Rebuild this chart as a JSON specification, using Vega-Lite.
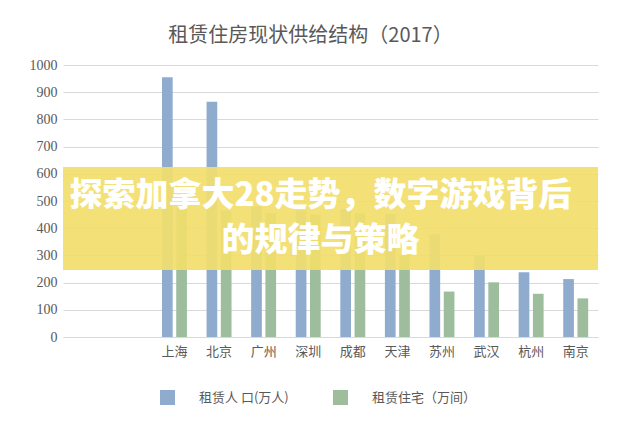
{
  "$schema": "https://vega.github.io/schema/vega-lite/v6.json",
  "width": 535,
  "height": 272,
  "autosize": "none",
  "padding": {"left": 63, "top": 65, "right": 42, "bottom": 101},
  "background": "white",
  "title": {
    "text": "租赁住房现状供给结构（2017）",
    "font": "Noto Sans CJK SC",
    "fontSize": 20,
    "fontWeight": "normal",
    "color": "#595959",
    "anchor": "middle",
    "offset": 12,
    "dx": -20
  },
  "config": {
    "view": {"stroke": null},
    "font": "Noto Sans CJK SC",
    "axisY": {
      "title": null,
      "tickCount": 10,
      "format": "d",
      "labelOverlap": false,
      "gridColor": "#d9d9d9",
      "domain": false,
      "ticks": false,
      "labelFont": "Liberation Serif",
      "labelFontSize": 14,
      "labelColor": "#595959",
      "labelPadding": 6
    },
    "axisX": {
      "title": null,
      "labelAngle": 0,
      "ticks": false,
      "domainColor": "#d9d9d9",
      "labelFont": "Noto Sans CJK SC",
      "labelFontSize": 13,
      "labelColor": "#595959",
      "labelPadding": 8,
      "grid": false
    }
  },
  "data": {
    "values": [
      {"city": "上海", "series": "租赁人 口(万人)", "value": 955},
      {"city": "上海", "series": "租赁住宅（万间）", "value": 475},
      {"city": "北京", "series": "租赁人 口(万人)", "value": 865},
      {"city": "北京", "series": "租赁住宅（万间）", "value": 465},
      {"city": "广州", "series": "租赁人 口(万人)", "value": 480},
      {"city": "广州", "series": "租赁住宅（万间）", "value": 455},
      {"city": "深圳", "series": "租赁人 口(万人)", "value": 465},
      {"city": "深圳", "series": "租赁住宅（万间）", "value": 450},
      {"city": "成都", "series": "租赁人 口(万人)", "value": 470},
      {"city": "成都", "series": "租赁住宅（万间）", "value": 455},
      {"city": "天津", "series": "租赁人 口(万人)", "value": 452},
      {"city": "天津", "series": "租赁住宅（万间）", "value": 301},
      {"city": "苏州", "series": "租赁人 口(万人)", "value": 378},
      {"city": "苏州", "series": "租赁住宅（万间）", "value": 167},
      {"city": "武汉", "series": "租赁人 口(万人)", "value": 301},
      {"city": "武汉", "series": "租赁住宅（万间）", "value": 201},
      {"city": "杭州", "series": "租赁人 口(万人)", "value": 238},
      {"city": "杭州", "series": "租赁住宅（万间）", "value": 159},
      {"city": "南京", "series": "租赁人 口(万人)", "value": 213},
      {"city": "南京", "series": "租赁住宅（万间）", "value": 142}
    ]
  },
  "layer": [
    {
      "mark": {"type": "bar"},
      "encoding": {
        "x": {
          "field": "city",
          "type": "nominal",
          "sort": null,
          "scale": {
            "domain": [" ", "  ", "上海", "北京", "广州", "深圳", "成都", "天津", "苏州", "武汉", "杭州", "南京"],
            "paddingInner": 0.44,
            "paddingOuter": 0.22
          }
        },
        "xOffset": {
          "field": "series",
          "type": "nominal",
          "sort": null,
          "scale": {"domain": ["租赁人 口(万人)", "租赁住宅（万间）"], "paddingInner": 0.25, "paddingOuter": 0}
        },
        "y": {
          "field": "value",
          "type": "quantitative",
          "stack": null,
          "scale": {"domain": [0, 1000], "nice": false}
        },
        "color": {
          "field": "series",
          "type": "nominal",
          "sort": null,
          "scale": {"domain": ["租赁人 口(万人)", "租赁住宅（万间）"], "range": ["#8FACCF", "#9DBD9D"]},
          "legend": {
            "title": null,
            "orient": "none",
            "legendX": 97,
            "legendY": 325,
            "direction": "horizontal",
            "symbolType": "square",
            "symbolSize": 225,
            "symbolStrokeWidth": 0,
            "labelOffset": 24,
            "columnPadding": 44,
            "labelFont": "Noto Sans CJK SC",
            "labelFontSize": 13,
            "labelColor": "#595959"
          }
        }
      }
    },
    {
      "data": {"values": [{}]},
      "mark": {"type": "rect", "color": "#F2DE6C", "opacity": 0.92},
      "encoding": {"y": {"datum": 625}, "y2": {"datum": 246}}
    },
    {
      "data": {"values": [{}]},
      "mark": {"type": "text", "font": "Noto Sans CJK SC", "fontWeight": 900, "fontSize": 33, "color": "white", "align": "center", "baseline": "middle", "dx": -10},
      "encoding": {"y": {"datum": 520}, "text": {"value": "探索加拿大28走势，数字游戏背后"}}
    },
    {
      "data": {"values": [{}]},
      "mark": {"type": "text", "font": "Noto Sans CJK SC", "fontWeight": 900, "fontSize": 33, "color": "white", "align": "center", "baseline": "middle", "dx": -10},
      "encoding": {"y": {"datum": 352}, "text": {"value": "的规律与策略"}}
    }
  ]
}
